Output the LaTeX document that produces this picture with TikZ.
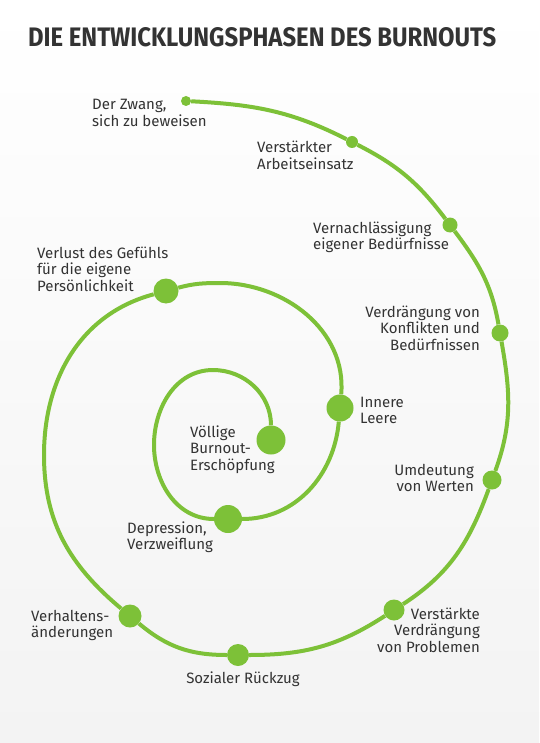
\documentclass[tikz,border=0pt]{standalone}
\usepackage{fontspec}
\setmainfont{Fira Sans}
\usepackage{graphicx}
\definecolor{burngreen}{RGB}{125,193,56}
\definecolor{inkgray}{RGB}{51,51,51}
\definecolor{bgbottom}{RGB}{243,243,243}

\begin{document}
\begin{tikzpicture}[x=1pt, y=1pt,
  phase/.style={circle, fill=burngreen, inner sep=0pt, minimum size=#1},
  spiral/.style={line width=4pt, burngreen},
  phaselabel/.style={font=\fontsize{15}{16.5}\selectfont, text=inkgray, inner sep=0pt},
]
  % --- Background ---
  \shade[top color=white, bottom color=bgbottom] (0,0) rectangle (539,-743);
  \useasboundingbox (0,0) rectangle (539,-743);

  % --- Title ---
  \node[anchor=base west, inner sep=0pt, text=inkgray] (title) at (28,-47)
    {\resizebox{468pt}{19pt}{\bfseries DIE ENTWICKLUNGSPHASEN DES BURNOUTS}};

  % --- Phases (dots grow towards the centre) ---
  \node[phase=10pt] (p1)  at (186,-101) {};
  \node[phase=12pt] (p2)  at (352,-142) {};
  \node[phase=15pt] (p3)  at (450,-225) {};
  \node[phase=17pt] (p4)  at (500,-333) {};
  \node[phase=19pt] (p5)  at (492,-480) {};
  \node[phase=21pt] (p6)  at (394,-610) {};
  \node[phase=22pt] (p7)  at (238,-655) {};
  \node[phase=23pt] (p8)  at (130,-616) {};
  \node[phase=25pt] (p9)  at (166,-291) {};
  \node[phase=27pt] (p10) at (340,-408) {};
  \node[phase=28pt] (p11) at (228,-519) {};
  \node[phase=29pt] (p12) at (271,-440) {};

  % turning points of the spiral
  \coordinate (outerleft) at (44,-455);
  \coordinate (midtop)    at (220,-283);
  \coordinate (innerleft) at (154,-445);
  \coordinate (innertop)  at (213,-370);

  % --- Spiral ---
  \draw[spiral] (p1) to[out=-3,in=153] (p2) to[out=-27,in=127] (p3)
    to[out=-53,in=100] (p4) to[out=-80,in=70] (p5) to[out=-110,in=33] (p6)
    to[out=-147,in=0] (p7) to[out=180,in=-40] (p8) to[out=140,in=-90] (outerleft)
    to[out=90,in=-165] (p9) to[out=15,in=180] (midtop) to[out=0,in=85] (p10)
    to[out=-95,in=0] (p11) to[out=180,in=-90] (innerleft)
    to[out=90,in=180] (innertop) to[out=0,in=90] (p12);

  % --- Labels (anchored at the baseline of their last line) ---
  \node[phaselabel, anchor=base west, align=left] (l1) at (92,-126.5)
    {Der Zwang,\\sich zu beweisen};
  \node[phaselabel, anchor=base west, align=left] (l2) at (257,-169.5)
    {Verstärkter\\Arbeitseinsatz};
  \node[phaselabel, anchor=base west, align=left] (l3) at (313,-249.5)
    {Vernachlässigung\\eigener Bedürfnisse};
  \node[phaselabel, anchor=base east, align=right] (l4) at (480,-350)
    {Verdrängung von\\Konflikten und\\Bedürfnissen};
  \node[phaselabel, anchor=base east, align=right] (l5) at (474,-491.5)
    {Umdeutung\\von Werten};
  \node[phaselabel, anchor=base east, align=right] (l6) at (480,-652)
    {Verstärkte\\Verdrängung\\von Problemen};
  \node[phaselabel, anchor=base] (l7) at (243,-683)
    {Sozialer Rückzug};
  \node[phaselabel, anchor=base west, align=left] (l8) at (31,-637.5)
    {Verhaltens-\\änderungen};
  \node[phaselabel, anchor=base west, align=left] (l9) at (37,-291)
    {Verlust des Gefühls\\für die eigene\\Persönlichkeit};
  \node[phaselabel, anchor=base west, align=left] (l10) at (360,-423.5)
    {Innere\\Leere};
  \node[phaselabel, anchor=base west, align=left] (l11) at (127,-549.5)
    {Depression,\\Verzweiflung};
  \node[phaselabel, anchor=base west, align=left] (l12) at (190,-470)
    {Völlige\\Burnout-\\Erschöpfung};
\end{tikzpicture}
\end{document}
